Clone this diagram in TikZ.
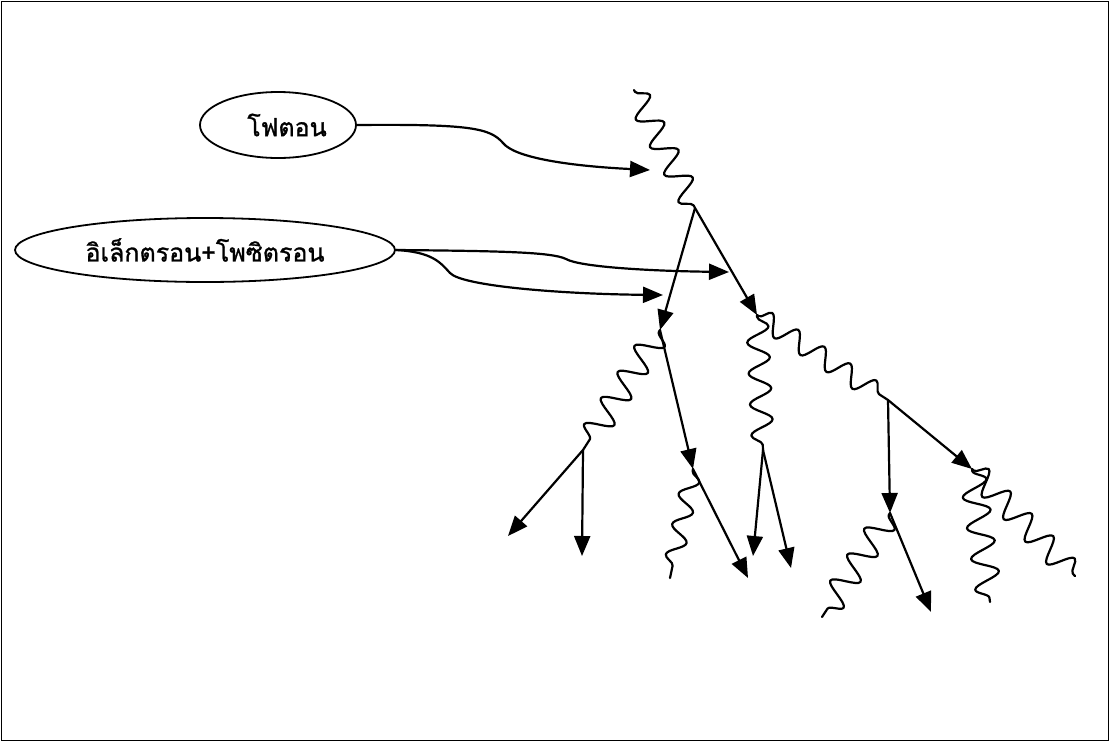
\documentclass[tikz,border=0pt]{standalone}
\usepackage{fontspec}
\newfontfamily\thaifont[Script=Thai,FakeBold=1.2]{Loma}
\usetikzlibrary{shapes.geometric,arrows.meta,decorations.pathmorphing}
\tikzset{
  line/.style={line width=2.2pt, line cap=round, line join=round},
  arr/.style={line, -{Triangle[length=20pt,width=16pt]}},
  wavy/.style={line, decorate, decoration={snake, amplitude=#1, segment length=31pt, pre length=2pt, post length=2pt}},
  wavy/.default=12pt,
  label/.style={ellipse, draw, line width=1.8pt, font=\thaifont\fontsize{25}{27}\selectfont, inner sep=0pt}
}
\begin{document}
\begin{tikzpicture}[x=1pt,y=-1pt]
\useasboundingbox (0,0) rectangle (1110,742);
\draw[line width=1.6pt] (1.5,1.5) rectangle (1108.5,740.5);

\node[label, minimum width=156pt, minimum height=66pt] (e1) at (278,125) {\hspace*{18pt}โฟตอน};
\node[label, minimum width=380pt, minimum height=64pt] (e2) at (205,250) {อิเล็กตรอน+โพซิตรอน};

% vertices
\coordinate (p0) at (634,90);
\coordinate (v1) at (695,208);
\coordinate (v2) at (660,330);
\coordinate (v3) at (757,315);
\coordinate (v4) at (583,450);
\coordinate (v5) at (693,469);
\coordinate (v6) at (763,450);
\coordinate (v7) at (888,400);
\coordinate (v8) at (890,513);
\coordinate (v9) at (972,469);
% free ends
\coordinate (a3) at (508,536);
\coordinate (a4) at (582,556);
\coordinate (a6) at (748,578);
\coordinate (a7) at (753,556);
\coordinate (a8) at (791,568);
\coordinate (a11) at (931,612);
\coordinate (w3) at (670,578);
\coordinate (w6) at (822,617);
\coordinate (w7) at (990,602);
\coordinate (w8) at (1075,576);
% label targets
\coordinate (t1) at (650,170);
\coordinate (t2) at (729,272);
\coordinate (t3) at (663,295);

% photon lines
\draw[wavy=12pt] (p0) -- (v1);
\draw[wavy=13pt] (v2) -- (v4);
\draw[wavy=9pt] (v5) -- (w3);
\draw[wavy=11pt] (v3) -- (v6);
\draw[wavy=10pt] (v3) -- (v7);
\draw[wavy=13pt] (v8) -- (w6);
\draw[wavy=13pt] (v9) -- (w7);
\draw[wavy=12pt] (v9) -- (w8);

% particle arrows
\draw[arr] (v1) -- (v2);
\draw[arr] (v1) -- (v3);
\draw[arr] (v4) -- (a3);
\draw[arr] (v4) -- (a4);
\draw[arr] (v2) -- (v5);
\draw[arr] (v5) -- (a6);
\draw[arr] (v6) -- (a7);
\draw[arr] (v6) -- (a8);
\draw[arr] (v7) -- (v8);
\draw[arr] (v7) -- (v9);
\draw[arr] (v8) -- (a11);

% label connectors
\draw[arr] (e1.east) .. controls (470,124) and (490,128) .. (503,143) .. controls (515,158) and (570,166) .. (t1);
\draw[arr] (e2.east) .. controls (500,251) and (552,252) .. (566,259) .. controls (580,267) and (650,271) .. (t2);
\draw[arr] (e2.east) .. controls (432,252) and (440,262) .. (450,273) .. controls (462,286) and (560,294) .. (t3);
\end{tikzpicture}
\end{document}
